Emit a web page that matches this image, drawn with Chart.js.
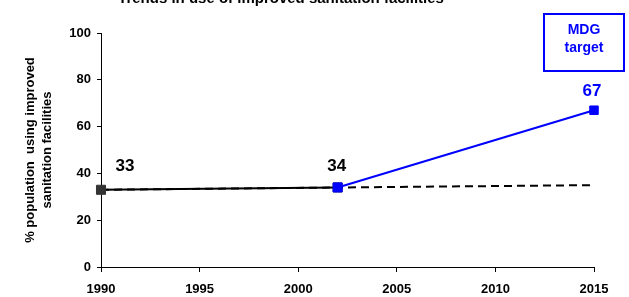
<!DOCTYPE html>
<html>
<head>
<meta charset="utf-8">
<script src="https://cdn.jsdelivr.net/npm/chart.js@4"></script>
<style>
html,body{margin:0;padding:0;background:#fff;}
#wrap{width:629px;height:297px;}
</style>
</head>
<body>
<div id="wrap"><canvas id="chart" width="629" height="297"></canvas></div>
<script>
// data
const years=[1990,2002,2015];
const observed=[33,34];          // 1990, 2002
const targetPath=[34,67];        // 2002 -> 2015 (MDG target)
const trend=[33,35];             // 1990 -> 2015 at current pace
const yTicks=[0,20,40,60,80,100];

const BLUE="#0000ff";
const FONT="Liberation Sans, Arial, sans-serif";

const labelsPlugin={
id:"labels",
afterDraw(chart){
const ctx=chart.ctx;
const xs=chart.scales.x, ys=chart.scales.y;
ctx.save();
// title (partly cut off at the top)
ctx.font="bold 15px "+FONT;
ctx.fillStyle="#000";
ctx.textAlign="center";
ctx.textBaseline="alphabetic";
ctx.fillText("Trends in use of improved sanitation facilities",281,3);
// value labels
ctx.font="bold 17px "+FONT;
ctx.textBaseline="middle";
ctx.fillText(String(observed[0]),xs.getPixelForValue(years[0])+24,ys.getPixelForValue(observed[0])-23);
ctx.fillText(String(observed[1]),xs.getPixelForValue(years[1])-1,ys.getPixelForValue(observed[1])-21);
ctx.fillStyle=BLUE;
ctx.fillText(String(targetPath[1]),xs.getPixelForValue(years[2])-2,ys.getPixelForValue(targetPath[1])-19);
// MDG target box
ctx.strokeStyle=BLUE;
ctx.lineWidth=2;
ctx.strokeRect(544,14,80,57);
ctx.font="bold 14px "+FONT;
ctx.fillText("MDG",584,30);
ctx.fillText("target",584,48);
ctx.restore();
}
};

new Chart(document.getElementById("chart"),{
type:"line",
data:{
datasets:[
{
label:"trend",
data:[{x:years[0],y:trend[0]},{x:years[2],y:trend[1]}],
borderColor:"#000",
borderWidth:2,
borderDash:[8,5],
pointRadius:0,
clip:false,
order:3
},
{
label:"observed",
data:[{x:years[0],y:observed[0]},{x:years[1],y:observed[1]}],
borderColor:"#000",
borderWidth:2,
pointStyle:"rect",
pointRadius:6.4,
pointBorderWidth:1,
pointBackgroundColor:"#333",
pointBorderColor:"#333",
clip:false,
order:2
},
{
label:"target",
data:[{x:years[1],y:targetPath[0]},{x:years[2],y:targetPath[1]}],
borderColor:BLUE,
borderWidth:2,
pointStyle:"rect",
pointRadius:[6.4,6],
pointBorderWidth:1,
pointBackgroundColor:BLUE,
pointBorderColor:BLUE,
clip:false,
order:1
}
]
},
options:{
responsive:false,
animation:false,
layout:{padding:{top:33,right:35,left:0,bottom:0}},
plugins:{legend:{display:false},tooltip:{enabled:false}},
scales:{
x:{
type:"linear",
min:1990,max:2015,
afterFit(s){s.height=30;},
grid:{drawOnChartArea:false,drawTicks:true,tickLength:5,color:"#000"},
border:{color:"#000",width:1},
ticks:{stepSize:5,color:"#000",font:{family:FONT,size:13,weight:"bold"},padding:10,maxRotation:0,callback:v=>String(v)}
},
y:{
min:0,max:100,
afterFit(s){s.width=101;},
afterBuildTicks(s){s.ticks=yTicks.map(v=>({value:v}));},
grid:{drawOnChartArea:false,drawTicks:true,tickLength:4,color:"#000"},
border:{color:"#000",width:1},
ticks:{color:"#000",font:{family:FONT,size:13,weight:"bold"},padding:6},
title:{
display:true,
text:["% population  using improved","sanitation facilities"],
color:"#000",
font:{family:FONT,size:13,weight:"bold",lineHeight:1.3},
padding:{top:22,bottom:0}
}
}
}
},
plugins:[labelsPlugin]
});
</script>
</body>
</html>
